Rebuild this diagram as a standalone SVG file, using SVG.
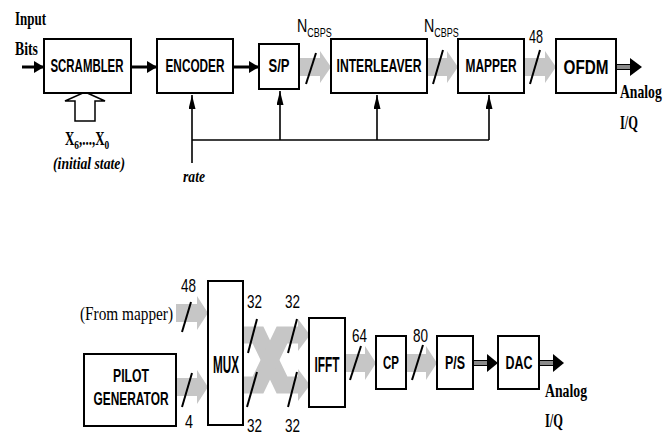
<svg xmlns="http://www.w3.org/2000/svg" width="664" height="436" viewBox="0 0 664 436">
<style>
.box{fill:#fff;stroke:#000;stroke-width:2}
.lbl{font-family:"Liberation Sans",Arial,sans-serif;font-weight:bold;text-anchor:middle;fill:#000}
.num{font-family:"Liberation Sans",Arial,sans-serif;font-size:19px;fill:#000}
.ser{font-family:"Liberation Serif","Times New Roman",serif;font-weight:bold;font-size:18px;fill:#000}
.serr{font-family:"Liberation Serif","Times New Roman",serif;font-weight:normal;font-size:18px;fill:#000}
.seri{font-family:"Liberation Serif","Times New Roman",serif;font-weight:bold;font-style:italic;font-size:17px;fill:#000}
.gray{fill:#c6c6c6}
.gband{fill:none;stroke:#c6c6c6;stroke-width:17;stroke-linejoin:miter}
.slash{stroke:#000;stroke-width:2;fill:none}
.blk{stroke:#000;stroke-width:3;fill:none}
.fb{stroke:#000;stroke-width:1.6;fill:none}
.dbl{fill:#8a8a8a;stroke:#000;stroke-width:1}
</style>
<defs>
<marker id="ah" viewBox="0 0 10 12" refX="10" refY="6" markerWidth="10" markerHeight="12" markerUnits="userSpaceOnUse" orient="auto"><path d="M0,0 L10,6 L0,12 Z" fill="#000"/></marker>
<marker id="ahs" viewBox="0 0 14 7" refX="14" refY="3.5" markerWidth="14" markerHeight="7" markerUnits="userSpaceOnUse" orient="auto"><path d="M0,0 L14,3.5 L0,7 Z" fill="#000"/></marker>
</defs>
<rect width="664" height="436" fill="#fff"/>

<g id="connectors">
  <line class="blk" x1="22" y1="67" x2="44" y2="67" marker-end="url(#ah)"/>
  <line class="blk" x1="131" y1="67" x2="157" y2="67" marker-end="url(#ah)"/>
  <line class="blk" x1="233" y1="67" x2="259" y2="67" marker-end="url(#ah)"/>
  <path class="gray" d="M299,58 H320 V51 L331,67 L320,83 V76 H299 Z"/>
  <path class="gray" d="M427,58 H447 V51 L458,67 L447,83 V76 H427 Z"/>
  <path class="gray" d="M524,58 H545 V51 L556,67 L545,83 V76 H524 Z"/>
  <line class="slash" x1="306" y1="84" x2="316" y2="53"/>
  <line class="slash" x1="433" y1="84" x2="443" y2="50"/>
  <line class="slash" x1="530" y1="84" x2="540" y2="50"/>
  <rect class="dbl" x="616" y="64.5" width="15" height="5"/>
  <path d="M630,58 L642,67 L630,76 Z" fill="#000"/>
  <path d="M85,92 L105,101 H95 V121 H75 V101 H65 Z" fill="#fff" stroke="#000" stroke-width="1.5"/>
  <line class="fb" x1="192" y1="163" x2="192" y2="95" marker-end="url(#ahs)"/>
  <line class="fb" x1="192" y1="140" x2="489" y2="140"/>
  <line class="fb" x1="280" y1="140" x2="280" y2="91" marker-end="url(#ahs)"/>
  <line class="fb" x1="377" y1="140" x2="377" y2="95" marker-end="url(#ahs)"/>
  <line class="fb" x1="489" y1="140" x2="489" y2="95" marker-end="url(#ahs)"/>

  <path class="gray" d="M176,304 H197 V296 L208,313 L197,330 V322 H176 Z"/>
  <path class="gray" d="M176,378 H197 V370 L208,387 L197,404 V396 H176 Z"/>
  <polyline class="gband" points="243,335 258,335 282,385 299,385"/>
  <polyline class="gband" points="243,385 258,385 282,335 299,335"/>
  <path class="gray" d="M298,319 L310,335 L298,351 Z"/>
  <path class="gray" d="M298,369 L310,385 L298,401 Z"/>
  <path class="gray" d="M345,354 H365 V346 L376,363 L365,380 V372 H345 Z"/>
  <path class="gray" d="M406,354 H426 V346 L437,363 L426,380 V372 H406 Z"/>
  <line class="slash" x1="182" y1="332" x2="191" y2="302"/>
  <line class="slash" x1="182" y1="407" x2="192" y2="373"/>
  <line class="slash" x1="248" y1="353" x2="257" y2="319"/>
  <line class="slash" x1="288" y1="353" x2="297" y2="319"/>
  <line class="slash" x1="247" y1="407" x2="257" y2="372"/>
  <line class="slash" x1="288" y1="407" x2="297" y2="372"/>
  <line class="slash" x1="350" y1="380" x2="361" y2="346"/>
  <line class="slash" x1="412" y1="380" x2="423" y2="345"/>
  <rect class="dbl" x="473" y="360.5" width="16" height="5"/>
  <path d="M487,354 L498,363 L487,372 Z" fill="#000"/>
  <rect class="dbl" x="539" y="360.5" width="15" height="5"/>
  <path d="M553,354 L564,363 L553,372 Z" fill="#000"/>
</g>

<g id="scrambler"><rect class="box" x="44" y="39" width="87" height="54"/><text class="lbl" x="87" y="72" font-size="18" textLength="73" lengthAdjust="spacingAndGlyphs">SCRAMBLER</text></g>
<g id="encoder"><rect class="box" x="157" y="39" width="76" height="54"/><text class="lbl" x="195" y="72" font-size="18" textLength="59" lengthAdjust="spacingAndGlyphs">ENCODER</text></g>
<g id="sp"><rect class="box" x="259" y="44" width="40" height="45"/><text class="lbl" x="279" y="72" font-size="18" textLength="21" lengthAdjust="spacingAndGlyphs">S/P</text></g>
<g id="interleaver"><rect class="box" x="331" y="39" width="96" height="54"/><text class="lbl" x="379" y="72" font-size="18" textLength="85" lengthAdjust="spacingAndGlyphs">INTERLEAVER</text></g>
<g id="mapper"><rect class="box" x="458" y="39" width="66" height="54"/><text class="lbl" x="491" y="72" font-size="18" textLength="51" lengthAdjust="spacingAndGlyphs">MAPPER</text></g>
<g id="ofdm"><rect class="box" x="556" y="39" width="60" height="54"/><text class="lbl" x="586" y="74" font-size="21" textLength="45" lengthAdjust="spacingAndGlyphs">OFDM</text></g>

<g id="pilot"><rect class="box" x="84" y="354" width="92" height="72"/><text class="lbl" x="131" y="382" font-size="18" textLength="36" lengthAdjust="spacingAndGlyphs">PILOT</text><text class="lbl" x="131" y="405" font-size="18" textLength="75" lengthAdjust="spacingAndGlyphs">GENERATOR</text></g>
<g id="mux"><rect class="box" x="208" y="281" width="35" height="144"/><text class="lbl" x="226" y="373" font-size="23" textLength="26" lengthAdjust="spacingAndGlyphs">MUX</text></g>
<g id="ifft"><rect class="box" x="309" y="318" width="36" height="89"/><text class="lbl" x="327" y="372" font-size="22" textLength="25" lengthAdjust="spacingAndGlyphs">IFFT</text></g>
<g id="cp"><rect class="box" x="376" y="336" width="30" height="53"/><text class="lbl" x="391" y="369" font-size="19" textLength="16" lengthAdjust="spacingAndGlyphs">CP</text></g>
<g id="ps"><rect class="box" x="437" y="336" width="36" height="53"/><text class="lbl" x="455" y="369" font-size="19" textLength="20" lengthAdjust="spacingAndGlyphs">P/S</text></g>
<g id="dac"><rect class="box" x="498" y="336" width="41" height="53"/><text class="lbl" x="519" y="369" font-size="19" textLength="27" lengthAdjust="spacingAndGlyphs">DAC</text></g>

<g id="labels">
  <text class="ser" x="15" y="25" textLength="31" lengthAdjust="spacingAndGlyphs">Input</text>
  <text class="ser" x="15" y="55" textLength="23" lengthAdjust="spacingAndGlyphs">Bits</text>
  <text class="ser" font-size="19" transform="translate(65,145) scale(0.72,1)">X<tspan font-size="13" dy="4">6</tspan><tspan dy="-4">,...,X</tspan><tspan font-size="13" dy="4">0</tspan></text>
  <text class="seri" x="53" y="169" textLength="72" lengthAdjust="spacingAndGlyphs">(initial state)</text>
  <text class="seri" x="183" y="182" textLength="22" lengthAdjust="spacingAndGlyphs">rate</text>
  <text class="num" font-size="16" transform="translate(297,32) scale(0.75,1)">N<tspan font-size="12" dy="5">CBPS</tspan></text>
  <text class="num" font-size="16" transform="translate(424,32) scale(0.75,1)">N<tspan font-size="12" dy="5">CBPS</tspan></text>
  <text class="num" x="529" y="43" font-size="18" textLength="14" lengthAdjust="spacingAndGlyphs">48</text>
  <text class="ser" font-size="17" transform="translate(620,98) scale(0.76,1)">Analog</text>
  <text class="ser" x="620" y="129" textLength="18" lengthAdjust="spacingAndGlyphs">I/Q</text>

  <text class="serr" x="80" y="320" textLength="93" lengthAdjust="spacingAndGlyphs">(From mapper)</text>
  <text class="num" x="181" y="292" font-size="18" textLength="15" lengthAdjust="spacingAndGlyphs">48</text>
  <text class="num" x="185" y="428" textLength="8" lengthAdjust="spacingAndGlyphs">4</text>
  <text class="num" x="247" y="308" textLength="15" lengthAdjust="spacingAndGlyphs">32</text>
  <text class="num" x="285" y="308" textLength="15" lengthAdjust="spacingAndGlyphs">32</text>
  <text class="num" x="247" y="432" textLength="15" lengthAdjust="spacingAndGlyphs">32</text>
  <text class="num" x="285" y="432" textLength="15" lengthAdjust="spacingAndGlyphs">32</text>
  <text class="num" x="352" y="342" textLength="15" lengthAdjust="spacingAndGlyphs">64</text>
  <text class="num" x="413" y="342" textLength="15" lengthAdjust="spacingAndGlyphs">80</text>
  <text class="ser" x="545" y="397" textLength="42" lengthAdjust="spacingAndGlyphs">Analog</text>
  <text class="ser" x="545" y="427" textLength="18" lengthAdjust="spacingAndGlyphs">I/Q</text>
</g>
</svg>
